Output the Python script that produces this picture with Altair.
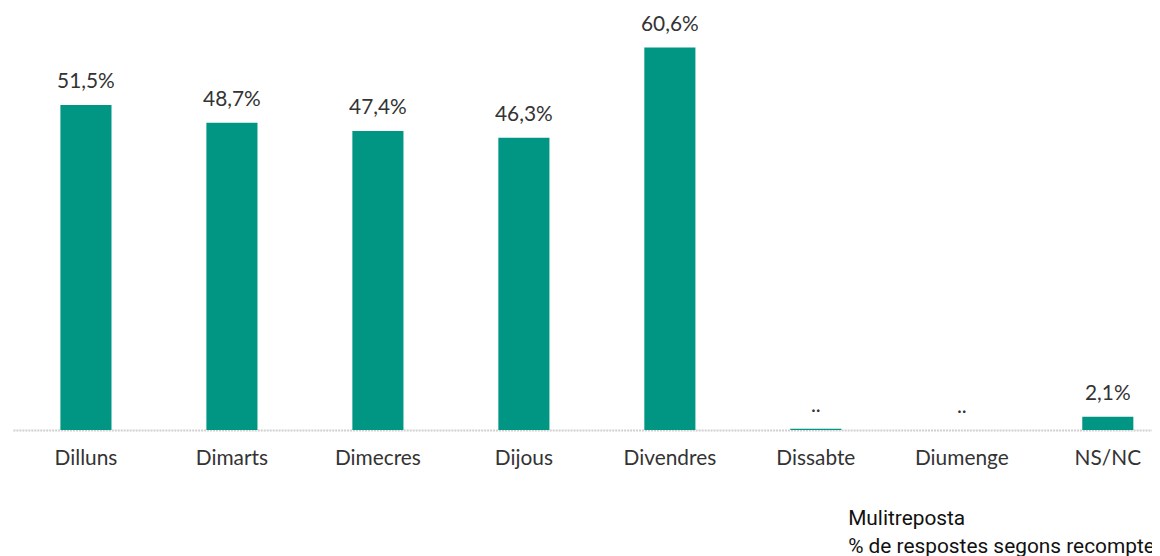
import altair as alt
import pandas as pd

categories = ["Dilluns", "Dimarts", "Dimecres", "Dijous", "Divendres", "Dissabte", "Diumenge", "NS/NC"]
values = [51.5, 48.7, 47.4, 46.3, 60.6, 0.2, 0.0, 2.1]
labels = ["51,5%", "48,7%", "47,4%", "46,3%", "60,6%", "..", "..", "2,1%"]
notes = ["Mulitreposta", "% de respostes segons recompte"]

df = pd.DataFrame({"cat": categories, "val": values, "lab": labels})

FONT = "Lato"
x = alt.X("cat:N", sort=categories, title=None,
          scale=alt.Scale(range=[0, 1176], paddingInner=0.65, paddingOuter=0.325, round=False),
          axis=alt.Axis(labelAngle=0, labelFont=FONT, labelFontSize=21, labelColor="#333333",
                        labelPadding=18, ticks=False, domainColor="#cfcfcf", domainWidth=2,
                        domainDash=[2, 1]))
y = alt.Y("val:Q", scale=alt.Scale(domain=[0, 65], nice=False), axis=None)

bars = alt.Chart(df).mark_bar(color="#009683").encode(x=x, y=y)
text = alt.Chart(df).mark_text(font=FONT, fontSize=21, color="#333333", dy=-17,
                               baseline="alphabetic").encode(x=x, y=y, text="lab:N")

note = alt.Chart(pd.DataFrame({"t": [0]})).mark_text(
    font="Roboto", fontSize=21, color="#111111", align="left", baseline="alphabetic",
    lineHeight=28
).encode(x=alt.value(841), y=alt.value(509), text=alt.value(notes))

chart = alt.layer(bars, text, note).properties(
    width=1147, height=413,
    padding={"left": 5, "top": 10, "right": 0, "bottom": 125},
    autosize=alt.AutoSizeParams(type="none"),
).configure_view(stroke=None)

chart.save("out.html", embed_options={"renderer": "svg", "actions": False})
